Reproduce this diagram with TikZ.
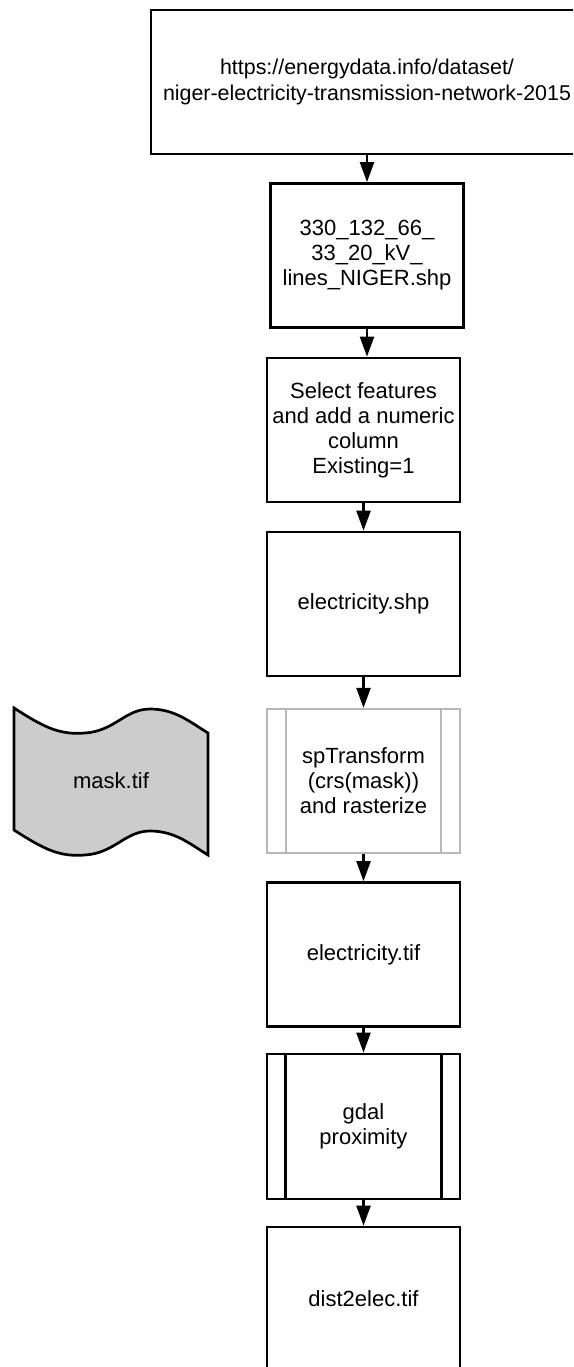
\documentclass[tikz,border=0pt]{standalone}
\usepackage{fontspec}
\setmainfont{Liberation Sans}
\usetikzlibrary{arrows.meta}
\definecolor{procgray}{HTML}{B8B8B8}
\definecolor{maskfill}{HTML}{CCCCCC}
\tikzset{
  box/.style={draw=black, line width=2.7pt, fill=white, minimum width=193pt,
    minimum height=144pt, align=center, inner sep=4pt,
    font=\fontsize{22}{25}\selectfont},
  graybox/.style={box, draw=procgray, line width=2.2pt},
  flow/.style={line width=2.2pt, -{Triangle[width=14pt,length=20pt]}},
  procline/.style={line width=2.7pt},
}
\begin{document}
\begin{tikzpicture}[x=1pt, y=-1pt]
\useasboundingbox (0,0) rectangle (573,1367);
\clip (0,0) rectangle (573,1367);

% source dataset
\node[box, minimum width=432pt, font=\fontsize{21.4}{26}\selectfont] (src) at (367,82)
  {https://energydata.info/dataset/\\niger-electricity-transmission-network-2015};

% processing chain
\node[box] (lines) at (367,255.5) {330\_132\_66\_\\33\_20\_kV\_\\lines\_NIGER.shp};
\node[box] (select) at (363.5,430) {Select features\\and add a numeric\\column\\Existing=1};
\node[box] (shp) at (363.5,604) {electricity.shp};
\node[graybox] (rast) at (363.5,781) {spTransform\\(crs(mask))\\and rasterize};
\draw[procgray, line width=2.2pt] ([xshift=20pt]rast.north west) -- ([xshift=20pt]rast.south west);
\draw[procgray, line width=2.2pt] ([xshift=-20pt]rast.north east) -- ([xshift=-20pt]rast.south east);
\node[box] (tif) at (363.5,954.5) {electricity.tif};
\node[box, minimum height=145pt] (prox) at (363.5,1126.5) {gdal\\proximity};
\draw[procline] ([xshift=20pt]prox.north west) -- ([xshift=20pt]prox.south west);
\draw[procline] ([xshift=-20pt]prox.north east) -- ([xshift=-20pt]prox.south east);
\node[box] (dist) at (363.5,1299) {dist2elec.tif};

% mask raster (tape shape)
\draw[line width=2.7pt, fill=maskfill]
  (14,708) .. controls (45,728) and (60,735) .. (85,733)
  .. controls (115,731) and (125,709) .. (150,709)
  .. controls (175,709) and (190,722) .. (208,733)
  -- (208,855)
  .. controls (190,844) and (175,831) .. (150,831)
  .. controls (125,831) and (115,853) .. (85,855)
  .. controls (60,857) and (45,850) .. (14,830) -- cycle;
\node[font=\fontsize{22}{25}\selectfont] (mask) at (111,781) {mask.tif};

% connectors
\draw[flow] (src.south -| lines.north) -- (lines.north);
\draw[flow] (lines.south) -- (lines.south |- select.north);
\draw[flow] (select.south) -- (shp.north);
\draw[flow] (shp.south) -- (rast.north);
\draw[flow] (rast.south) -- (tif.north);
\draw[flow] (tif.south) -- (prox.north);
\draw[flow] (prox.south) -- (dist.north);
\end{tikzpicture}
\end{document}
